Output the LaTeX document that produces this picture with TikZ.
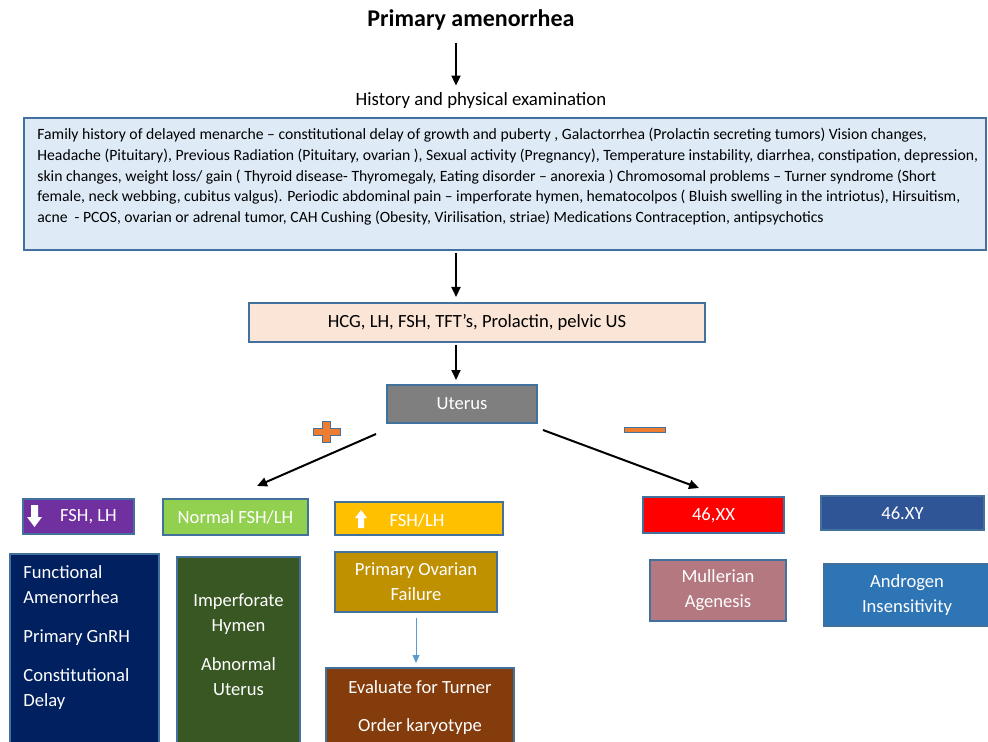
\documentclass[tikz,border=0pt]{standalone}
\usepackage{fontspec}
\setmainfont{Carlito}
\usetikzlibrary{arrows.meta}

\definecolor{boxline}{HTML}{41719C}
\definecolor{histfill}{HTML}{DEEBF7}
\definecolor{labfill}{HTML}{FBE5D6}
\definecolor{uterusfill}{HTML}{7F7F7F}
\definecolor{lowfill}{HTML}{7030A0}
\definecolor{normfill}{HTML}{92D050}
\definecolor{highfill}{HTML}{FFC000}
\definecolor{xxfill}{HTML}{FF0000}
\definecolor{xyfill}{HTML}{2F5597}
\definecolor{navyfill}{HTML}{002060}
\definecolor{hymenfill}{HTML}{385723}
\definecolor{povfill}{HTML}{BF9000}
\definecolor{turnerfill}{HTML}{843C0C}
\definecolor{mullfill}{HTML}{B47880}
\definecolor{andrfill}{HTML}{2E75B6}
\definecolor{signorange}{HTML}{ED7D31}
\definecolor{thinarrow}{HTML}{5B9BD5}

\newcommand\boxfont{\fontsize{9.3}{12.5}\selectfont}

\begin{document}
\begin{tikzpicture}[
  x=0.5pt, y=-0.5pt,
  colbox/.style={rectangle, draw=boxline, line width=1pt, inner sep=0pt,
    align=center, text=white, font=\boxfont},
  plaintext/.style={inner sep=0pt, align=center},
  arr/.style={-{Triangle[length=5pt,width=4.5pt]}, line width=1pt, black},
  thinarr/.style={-{Triangle[length=4pt,width=3.5pt]}, line width=0.5pt, thinarrow},
  sign/.style={fill=signorange, draw=boxline, line width=0.5pt}
]
\useasboundingbox (0,0) rectangle (988,742);
\clip (0,0) rectangle (988,742);

% Top: title and history
\node[plaintext, font=\fontsize{12}{14}\selectfont\bfseries] (title) at (471,20) {Primary amenorrhea};
\node[plaintext, font=\fontsize{9.4}{11}\selectfont] (hist) at (481,100) {History and physical examination};
\node[colbox, fill=histfill, minimum width=481pt, minimum height=66pt] (histbox) at (505,184) {};
\node[plaintext, anchor=north west, align=left, text=black,
  font=\fontsize{7.85}{10.3}\selectfont] (histtext) at (37,128)
  {Family history of delayed menarche -- constitutional delay of growth and puberty , Galactorrhea (Prolactin secreting tumors) Vision changes,\\
   Headache (Pituitary), Previous Radiation (Pituitary, ovarian ), Sexual activity (Pregnancy), Temperature instability, diarrhea, constipation, depression,\\
   skin changes, weight loss/ gain ( Thyroid disease- Thyromegaly, Eating disorder -- anorexia ) Chromosomal problems -- Turner syndrome (Short\\
   female, neck webbing, cubitus valgus). Periodic abdominal pain -- imperforate hymen, hematocolpos ( Bluish swelling in the intriotus), Hirsuitism,\\
   acne~ - PCOS, ovarian or adrenal tumor, CAH Cushing (Obesity, Virilisation, striae) Medications Contraception, antipsychotics};

% Investigations and uterus
\node[colbox, fill=labfill, text=black, minimum width=228pt, minimum height=19.5pt] (labs) at (477,322.5) {HCG, LH, FSH, TFT’s, Prolactin, pelvic US};
\node[colbox, fill=uterusfill, minimum width=75pt, minimum height=19pt] (uterus) at (462,404) {Uterus};

% Plus and minus signs
\draw[sign] (322,421) -- (330,421) -- (330,428) -- (340,428) -- (340,435) -- (330,435)
  -- (330,442) -- (322,442) -- (322,435) -- (313,435) -- (313,428) -- (322,428) -- cycle;
\draw[sign] (624,427) rectangle (665,432);

% Hormone row
\node[colbox, fill=lowfill, minimum width=55.5pt, minimum height=17.5pt] (low) at (78.5,516.5) {\hspace*{10pt}FSH, LH};
\fill[white] (31,505) -- (38,505) -- (38,517) -- (42,517) -- (34.5,527) -- (27,517) -- (31,517) -- cycle;
\node[colbox, fill=normfill, minimum width=72.5pt, minimum height=18pt] (normal) at (235.5,517) {Normal FSH/LH};
\node[colbox, fill=highfill, minimum width=84pt, minimum height=16.5pt] (high) at (419,518.5) {};
\node[plaintext, text=white, font=\boxfont] (hightext) at (417,520) {FSH/LH};
\fill[white] (358,528) -- (364,528) -- (364,518) -- (367,518) -- (361,510) -- (355,518) -- (358,518) -- cycle;
\node[colbox, fill=xxfill, minimum width=70.5pt, minimum height=18pt] (xx) at (713.5,515) {46,XX};
\node[colbox, fill=xyfill, minimum width=81.5pt, minimum height=17pt] (xy) at (902.5,513) {46.XY};

% Diagnoses
\node[colbox, fill=navyfill, minimum width=74.5pt, minimum height=113pt] (navy) at (84.5,667) {};
\node[plaintext, anchor=north west, align=left, text=white, font=\boxfont] (navytext) at (23,565)
  {Functional\\Amenorrhea\\[7pt]Primary GnRH\\[7pt]Constitutional\\Delay};
\node[colbox, fill=hymenfill, minimum width=61.5pt, minimum height=111.5pt] (hymen) at (238.5,668.5) {};
\node[plaintext, anchor=north, text=white, font=\boxfont] (hymentext) at (238.5,593)
  {Imperforate\\Hymen\\[7pt]Abnormal\\Uterus};
\node[colbox, fill=povfill, minimum width=81pt, minimum height=30pt] (pov) at (416,582) {Primary Ovarian\\Failure};
\node[colbox, fill=turnerfill, minimum width=94pt, minimum height=56pt] (turner) at (420,724) {};
\node[plaintext, anchor=north, text=white, font=\fontsize{9.3}{19}\selectfont] (turnertext) at (420,680)
  {Evaluate for Turner\\Order karyotype};
\node[colbox, fill=mullfill, minimum width=68pt, minimum height=30.5pt] (mull) at (718,590.5) {Mullerian\\Agenesis};
\node[colbox, fill=andrfill, minimum width=83pt, minimum height=31pt] (andr) at (907,595) {Androgen\\Insensitivity};

% Arrows
\coordinate (spine) at (456,0);
\coordinate (posstart) at (376,434);
\coordinate (posend) at (257,486);
\coordinate (negstart) at (543,430);
\coordinate (negend) at (699,488);
\draw[arr] ([yshift=-6pt]title.south -| spine) -- ([yshift=3pt]hist.north -| spine);
\draw[arr] ([yshift=-1pt]histbox.south -| spine) -- ([yshift=2.5pt]labs.north -| spine);
\draw[arr] ([yshift=-1pt]labs.south -| spine) -- ([yshift=2pt]uterus.north -| spine);
\draw[arr] (posstart) -- (posend);
\draw[arr] (negstart) -- (negend);
\draw[thinarr] ([yshift=-2.5pt]pov.south) -- ([yshift=2pt]turner.north -| pov.south);

\end{tikzpicture}
\end{document}
